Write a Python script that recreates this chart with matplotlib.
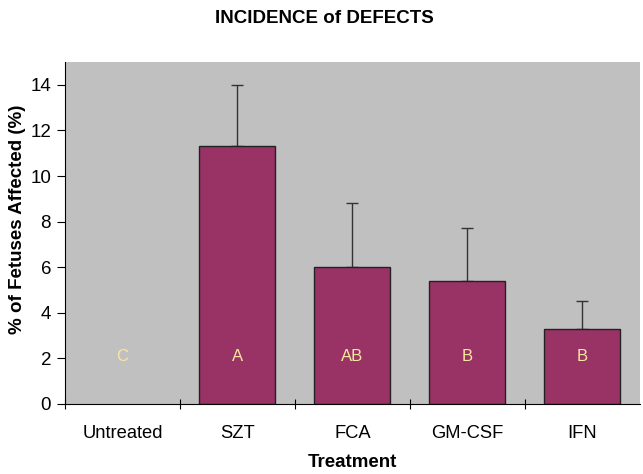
import numpy as np
import matplotlib
matplotlib.use('Agg')
import matplotlib.pyplot as plt

plt.rcParams['font.family'] = ['Liberation Sans', 'DejaVu Sans']

# data
treatments = ['Untreated', 'SZT', 'FCA', 'GM-CSF', 'IFN']
affected = [0.0, 11.3, 6.0, 5.4, 3.3]
err_up = [0.0, 2.7, 2.8, 2.3, 1.2]
groups = ['C', 'A', 'AB', 'B', 'B']
group_y = 2.1

fig = plt.figure(figsize=(6.43, 4.74), dpi=100)
ax = fig.add_axes([0.101, 0.148, 0.894, 0.721])
ax.set_facecolor('#c0c0c0')

x = np.arange(len(treatments))
mask = np.array(affected) > 0
ax.bar(x[mask], np.array(affected)[mask], width=0.66, color='#993366',
       edgecolor='#222222', linewidth=1.0, zorder=2)
ax.errorbar(x[mask], np.array(affected)[mask],
            yerr=[np.zeros(mask.sum()), np.array(err_up)[mask]],
            fmt='none', ecolor='#333333', elinewidth=1.0, capsize=4.5, capthick=1.0, zorder=1)

for xi, g in zip(x, groups):
    ax.text(xi, group_y, g, ha='center', va='center', color='#f7e7a0', fontsize=12, zorder=3)

ax.set_xlim(-0.5, len(treatments) - 0.5)
ax.set_ylim(0, 15)
ax.set_yticks(np.arange(0, 15, 2))
ax.set_xticks(x)
ax.set_xticklabels(treatments)
ax.set_xticks(np.arange(-0.5, len(treatments) - 0.5, 1), minor=True)
ax.tick_params(axis='x', which='major', length=0, pad=15, labelsize=13.2)
ax.tick_params(axis='x', which='minor', length=7, direction='inout', width=0.8)
ax.tick_params(axis='y', length=6, direction='out', width=0.8, labelsize=13.5, pad=4)

for s in ['top', 'right']:
    ax.spines[s].set_visible(False)
for s in ['left', 'bottom']:
    ax.spines[s].set_linewidth(0.8)

ax.set_xlabel('Treatment', fontsize=13.5, fontweight='bold', labelpad=9)
ax.set_ylabel('% of Fetuses Affected (%)', fontsize=13.5, fontweight='bold')
ax.yaxis.set_label_coords(-0.068, 0.54)
fig.text(0.505, 0.962, 'INCIDENCE of DEFECTS', ha='center', va='center',
         fontsize=13.5, fontweight='bold')

fig.savefig('out.png', dpi=100)
